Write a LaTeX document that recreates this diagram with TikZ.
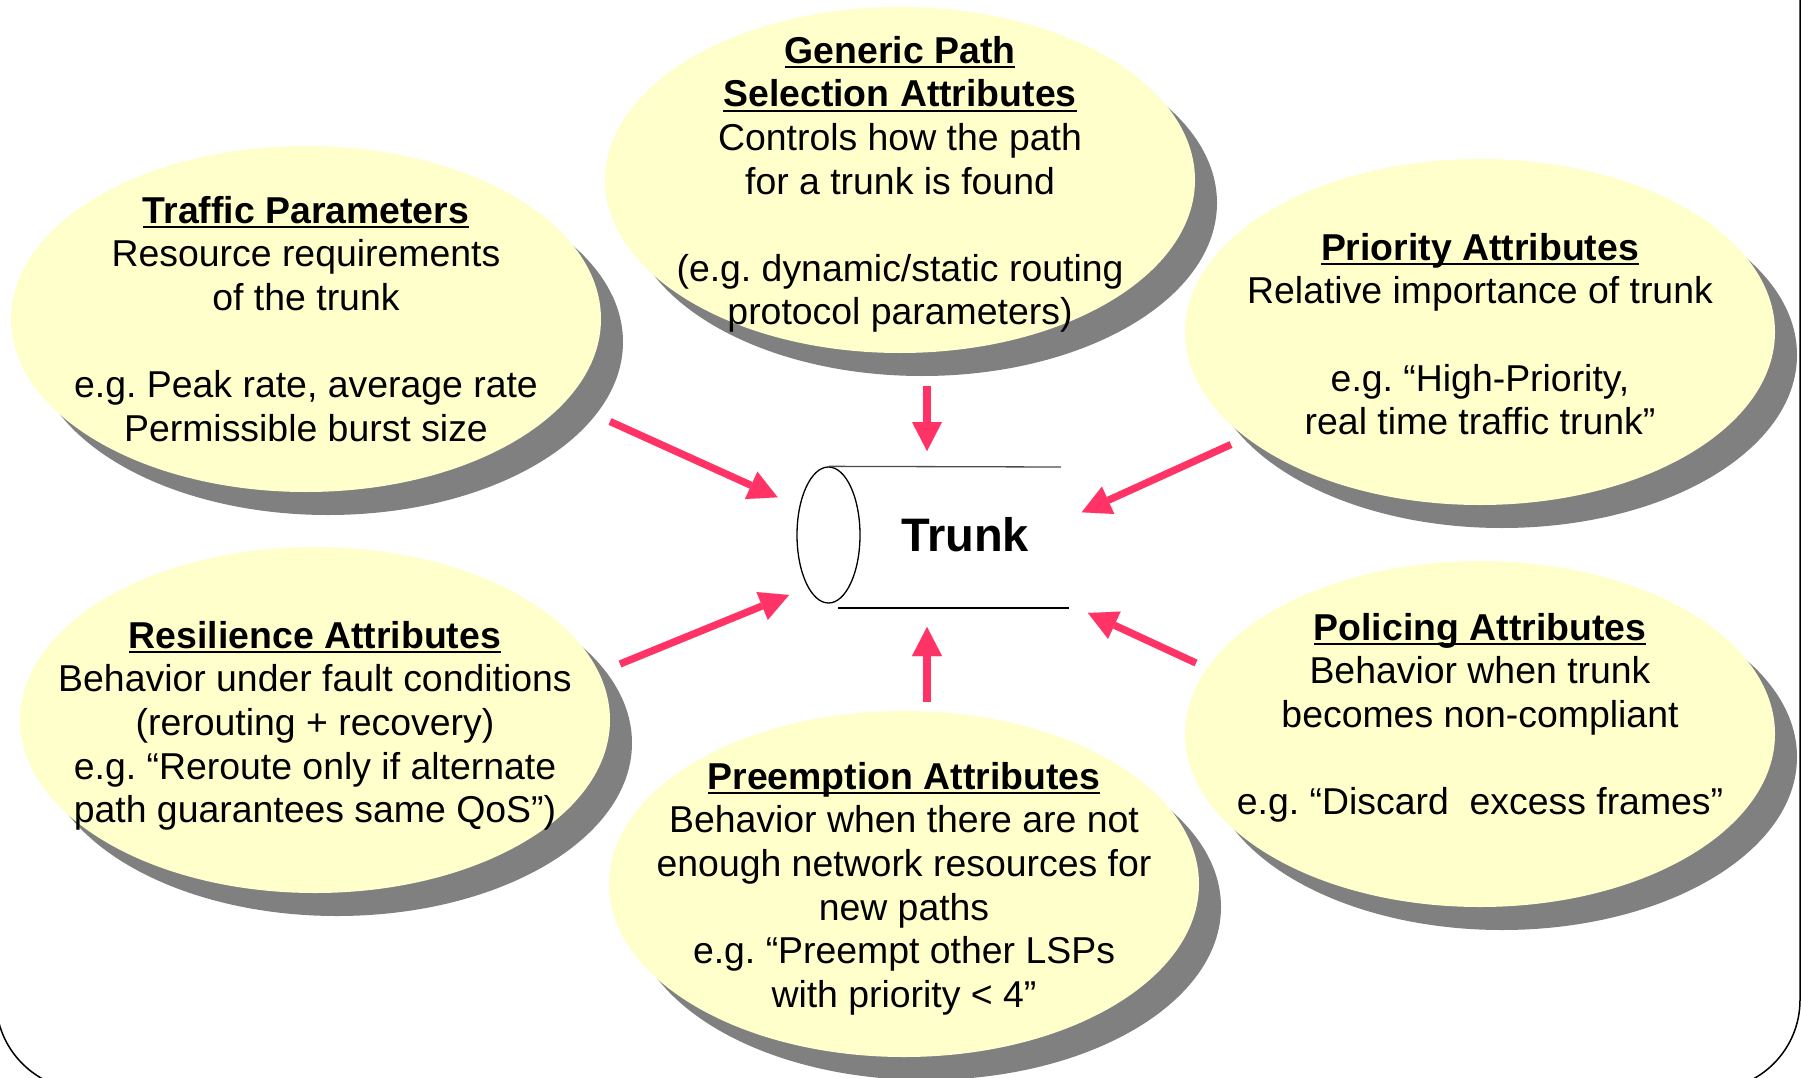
\documentclass[tikz,border=0pt]{standalone}
\usepackage{fontspec}
\setmainfont{Liberation Sans}
\usetikzlibrary{shapes.geometric,shadows,arrows.meta}
\definecolor{bubbleyellow}{RGB}{255,255,204}
\definecolor{shadowgray}{RGB}{128,128,128}
\definecolor{arrowpink}{RGB}{255,51,102}
\newcommand\ulbox[1]{\setbox0=\hbox{\bfseries #1}\rlap{\rule[-5pt]{\wd0}{2.2pt}}\box0}
\newcommand\firststrut{\rule{0pt}{30pt}}
\frenchspacing
\begin{document}
\begin{tikzpicture}[x=1pt,y=-1pt,
  bubble/.style={ellipse, fill=bubbleyellow, minimum width=590pt, minimum height=346pt, inner sep=0pt,
     drop shadow={shadow xshift=22pt, shadow yshift=-23pt, fill=shadowgray, opacity=1}},
  labeltext/.style={anchor=north, inner sep=0pt, align=center, font=\fontsize{37.4}{43.6}\selectfont\frenchspacing},
  feed/.style={draw=arrowpink, line width=7.3pt, -{Triangle[width=30pt,length=29pt,line width=0.01pt]}},
  thinline/.style={draw=black, line width=1.3pt}
]
\useasboundingbox (0,0) rectangle (1801,1078);
% frame
\draw[line width=1.5pt, rounded corners=90pt] (-4,-200) rectangle (1800,1090);

% bubbles
\node[bubble] (generic) at (900,180) {};
\node[bubble] (traffic) at (306,319) {};
\node[bubble] (priority) at (1480,332) {};
\node[bubble] (resilience) at (315,720) {};
\node[bubble] (policing) at (1480,734) {};
\node[bubble] (preemption) at (904,884) {};

% texts
\node[labeltext] (genericT) at (900,33) {\firststrut\ulbox{Generic Path}\\\ulbox{Selection Attributes}\\Controls how the path\\for a trunk is found\\[43.6pt](e.g. dynamic/static routing\\protocol parameters)};
\node[labeltext] (trafficT) at (306,193) {\firststrut\ulbox{Traffic Parameters}\\Resource requirements\\of the trunk\\[43.6pt]e.g. Peak rate, average rate\\Permissible burst size};
\node[labeltext] (priorityT) at (1480,230) {\firststrut\ulbox{Priority Attributes}\\Relative importance of trunk\\[43.6pt]e.g. “High-Priority,\\real time traffic trunk”};
\node[labeltext] (resilienceT) at (315,618) {\firststrut\ulbox{Resilience Attributes}\\Behavior under fault conditions\\(rerouting + recovery)\\e.g. “Reroute only if alternate\\path guarantees same QoS”)};
\node[labeltext] (policingT) at (1480,610) {\firststrut\ulbox{Policing Attributes}\\Behavior when trunk\\becomes non-compliant\\[43.6pt]e.g. “Discard\ \ excess frames”};
\node[labeltext] (preemptionT) at (904,759) {\firststrut\ulbox{Preemption Attributes}\\Behavior when there are not\\enough network resources for\\new paths\\e.g. “Preempt other LSPs\\with priority < 4”};

% trunk cylinder
\node[ellipse, draw, line width=1.3pt, minimum width=63pt, minimum height=136pt, inner sep=0pt] (trunkend) at (828.5,535) {};
\coordinate (trunktopend) at (1061,467);
\coordinate (trunkbotstart) at (838,608);
\coordinate (trunkbotend) at (1069,608);
\draw[thinline, draw=black!70] (trunkend.north) -- (trunktopend);
\draw[thinline] (trunkbotstart) -- (trunkbotend);
\node[font=\bfseries\fontsize{47}{56}\selectfont, inner sep=0pt] (trunk) at (965,535) {Trunk};

% arrows
\coordinate (a1s) at (610,421.5); \coordinate (a1e) at (777.6,497.3);
\coordinate (a2s) at (927,386);   \coordinate (a2e) at (927,451);
\coordinate (a3s) at (1231,444.5);\coordinate (a3e) at (1081.7,512.3);
\coordinate (a4s) at (620,664);   \coordinate (a4e) at (789,595);
\coordinate (a5s) at (927,702);   \coordinate (a5e) at (927,627);
\coordinate (a6s) at (1196,663);  \coordinate (a6e) at (1088,613);
\draw[feed] (a1s) -- (a1e);
\draw[feed] (a2s) -- (a2e);
\draw[feed] (a3s) -- (a3e);
\draw[feed] (a4s) -- (a4e);
\draw[feed] (a5s) -- (a5e);
\draw[feed] (a6s) -- (a6e);
\end{tikzpicture}
\end{document}
